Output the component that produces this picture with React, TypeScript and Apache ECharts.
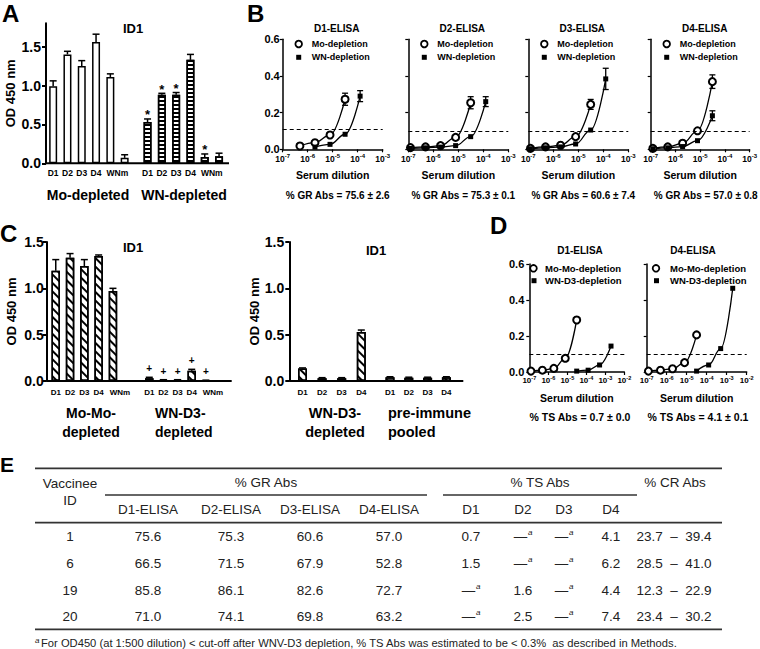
import { useEffect, useRef } from 'react';
import * as echarts from 'echarts';

const FONT = '"Liberation Sans", Arial, Helvetica, sans-serif';

// ---------- Panel A : ID1, OD 450 nm ----------
const catsA = ['D1', 'D2', 'D3', 'D4', 'WN', 'm'];
const moDepletedA = [0.99, 1.40, 1.25, 1.56, 1.11, 0.07];
const moDepletedErrA = [0.07, 0.04, 0.07, 0.10, 0.04, 0.04];
const wnDepletedA = [0.53, 0.88, 0.88, 1.33, 0.08, 0.09];
const wnDepletedErrA = [0.04, 0.02, 0.03, 0.07, 0.04, 0.04];
const wnStarA = [1, 1, 1, 0, 1, 0];
const ticksA = [0, 0.5, 1.0, 1.5];

// ---------- Panels B and D : serum dilution curves ----------
const dilutions = [1 / 8192000, 1 / 2048000, 1 / 512000, 1 / 128000, 1 / 32000, 1 / 8000, 1 / 2000, 1 / 500];
const bTitles = ['D1-ELISA', 'D2-ELISA', 'D3-ELISA', 'D4-ELISA'];
const moB1 = [null, 0.018, 0.036, 0.078, 0.273];
const moErrB1 = [0, 0, 0, 0, 0.033];
const wnB1 = [null, null, 0.012, 0.027, 0.082, 0.29];
const wnErrB1 = [0, 0, 0, 0, 0, 0.03];
const moB2 = [0.009, 0.013, 0.02, 0.065, 0.254];
const moErrB2 = [0, 0, 0, 0, 0.033];
const wnB2 = [0.005, 0.008, 0.012, 0.02, 0.069, 0.26];
const wnErrB2 = [0, 0, 0, 0, 0, 0.027];
const moB3 = [0.005, 0.013, 0.022, 0.069, 0.245];
const moErrB3 = [0, 0, 0, 0, 0.027];
const wnB3 = [0.003, 0.008, 0.013, 0.029, 0.105, 0.384];
const wnErrB3 = [0, 0, 0, 0, 0, 0.058];
const moB4 = [0.005, 0.013, 0.033, 0.101, 0.369];
const moErrB4 = [0, 0, 0, 0, 0.037];
const wnB4 = [0.003, 0.008, 0.015, 0.047, 0.183];
const wnErrB4 = [0, 0, 0, 0, 0.027];
const cutoffB = [0.11, 0.105, 0.105, 0.105];
const grMean = [75.6, 75.3, 60.6, 57.0];
const grSd = [2.6, 0.1, 7.4, 0.8];

const dTitles = ['D1-ELISA', 'D4-ELISA'];
const moMoD1 = [0.005, 0.01, 0.02, 0.076, 0.289];
const wnD3D1 = [null, null, null, null, 0.005, 0.01, 0.039, 0.144];
const moMoD4 = [0.005, 0.01, 0.018, 0.052, 0.206];
const wnD3D4 = [null, null, null, null, 0.005, 0.039, 0.13, 0.465];
const cutoffD = [0.104, 0.104];
const tsMean = [0.7, 4.1];
const tsSd = [0.0, 0.1];

// ---------- Panel C ----------
const catsC = ['D1', 'D2', 'D3', 'D4', 'WN', 'm'];
const moMoDepletedC = [1.19, 1.33, 1.24, 1.35, 0.97, 0.005];
const moMoErrC = [0.12, 0.045, 0.07, 0.01, 0.03, 0];
const wnD3DepletedC = [0.03, 0.01, 0.01, 0.11, 0.005, 0.005];
const wnD3ErrC = [0.01, 0.004, 0.004, 0.016, 0.004, 0];
const wnD3PlusC = [1, 1, 1, 1, 1, 0];
const catsCR = ['D1', 'D2', 'D3', 'D4'];
const wnD3DepletedCR = [0.135, 0.03, 0.03, 0.53];
const wnD3ErrCR = [0.006, 0.006, 0.006, 0.02];
const preImmuneCR = [0.04, 0.035, 0.035, 0.04];
const preImmuneErrCR = [0.006, 0.006, 0.006, 0.006];
const ticksC = [0, 0.5, 1.0, 1.5];

// ---------- Panel E : table ----------
const vaccineeIds = ['1', '6', '19', '20'];
const grD1 = [75.6, 66.5, 85.8, 71.0];
const grD2 = [75.3, 71.5, 86.1, 74.1];
const grD3 = [60.6, 67.9, 82.6, 69.8];
const grD4 = [57.0, 52.8, 72.7, 63.2];
const tsD1 = [0.7, 1.5, null, null];
const tsD2 = [null, null, 1.6, 2.5];
const tsD3 = [null, null, null, null];
const tsD4 = [4.1, 6.2, 4.4, 7.4];
const crLow = [23.7, 28.5, 12.3, 23.4];
const crHigh = [39.4, 41.0, 22.9, 30.2];
const footnote = 'For OD450 (at 1:500 dilution) < cut-off after WNV-D3 depletion, % TS Abs was estimated to be < 0.3%  as described in Methods.';

const BLACK = '#000';

function txt(text: string, x: number, y: number, size: number, weight = 'bold', align = 'center', color = BLACK) {
  return {
    type: 'text', silent: true, z: 50,
    style: { text, x, y, fill: color, font: `${weight} ${size}px ${FONT}`, textAlign: align, textVerticalAlign: 'middle' },
  };
}
function ln(x1: number, y1: number, x2: number, y2: number, w: number, color = BLACK) {
  return { type: 'line', silent: true, z: 50, shape: { x1, y1, x2, y2 }, style: { stroke: color, lineWidth: w } };
}

const barErrRender = (mark: string, markSize: number, markGap: number) => (_p: any, api: any) => {
  const i = api.value(0), v = api.value(1), e = api.value(2), f = api.value(3);
  const base = api.coord([i, v]);
  const top = api.coord([i, v + e]);
  const children: any[] = [];
  if (e > 0) {
    children.push({ type: 'line', shape: { x1: base[0], y1: base[1], x2: top[0], y2: top[1] }, style: { stroke: BLACK, lineWidth: 1.5 } });
    children.push({ type: 'line', shape: { x1: top[0] - 3.5, y1: top[1], x2: top[0] + 3.5, y2: top[1] }, style: { stroke: BLACK, lineWidth: 1.5 } });
  }
  if (f) {
    children.push({ type: 'text', style: { text: mark, x: top[0], y: top[1] - markGap, fill: BLACK, font: `bold ${markSize}px ${FONT}`, textAlign: 'center', textVerticalAlign: 'middle' } });
  }
  return { type: 'group', children };
};

const symErrRender = (_p: any, api: any) => {
  const x = api.value(0), y = api.value(1), e = api.value(2);
  const p1 = api.coord([x, y - e]);
  const p2 = api.coord([x, y + e]);
  const c = 3;
  const st = { stroke: BLACK, lineWidth: 1.3 };
  return {
    type: 'group', children: [
      { type: 'line', shape: { x1: p1[0], y1: p1[1], x2: p2[0], y2: p2[1] }, style: st },
      { type: 'line', shape: { x1: p1[0] - c, y1: p1[1], x2: p1[0] + c, y2: p1[1] }, style: st },
      { type: 'line', shape: { x1: p2[0] - c, y1: p2[1], x2: p2[0] + c, y2: p2[1] }, style: st },
    ],
  };
};

function buildOption() {
  const ctx = { grid: [] as any[], xAxis: [] as any[], yAxis: [] as any[], series: [] as any[] };
  const els: any[] = [];

  const hStripe = { symbol: 'rect', symbolSize: 1, color: BLACK, backgroundColor: '#fff', dashArrayX: [1, 0], dashArrayY: [1.3, 1.7], rotation: 0 };
  const dStripe = { symbol: 'rect', symbolSize: 1, color: BLACK, backgroundColor: '#fff', dashArrayX: [1, 0], dashArrayY: [1.7, 3.8], rotation: Math.PI / 4 };

  const addBarGroup = (o: any) => {
    const gi = ctx.grid.length;
    ctx.grid.push({ left: o.left, top: o.top, width: o.width, height: o.height });
    ctx.xAxis.push({
      type: 'category', gridIndex: gi, data: o.cats,
      axisLine: { show: false }, axisTick: { show: false }, splitLine: { show: false },
      axisLabel: {
        interval: 0, margin: o.labelMargin, fontSize: o.labelSize, fontWeight: 'bold', color: BLACK, fontFamily: FONT,
        formatter: (v: string) => (v === 'WN' ? '{w|WNm}' : v === 'm' ? '' : v),
        rich: { w: { fontSize: o.labelSize, fontWeight: 'bold', color: BLACK, fontFamily: FONT, padding: [0, 0, 0, o.wnPad || 14] } },
      },
    });
    ctx.yAxis.push({
      type: 'value', gridIndex: gi, min: 0, max: o.yMax, interval: 0.5, show: !!o.showY, offset: o.yOffset || 0,
      axisLine: { show: true, lineStyle: { color: BLACK, width: 2 } },
      axisTick: { show: true, length: 4, lineStyle: { color: BLACK, width: 2 }, customValues: o.ticks },
      axisLabel: { customValues: o.ticks, formatter: (v: number) => Number(v).toFixed(1), fontSize: 14, fontWeight: 'bold', color: BLACK, fontFamily: FONT, margin: o.yLabelMargin },
      splitLine: { show: false },
      name: o.showY ? 'OD 450 nm' : '', nameLocation: 'middle', nameRotate: 90, nameGap: o.nameGap || 29,
      nameTextStyle: { fontSize: 13, fontWeight: 'bold', color: BLACK, fontFamily: FONT },
    });
    ctx.series.push({
      type: 'bar', xAxisIndex: gi, yAxisIndex: gi, data: o.values, barWidth: o.barWidth, silent: true, z: 2,
      itemStyle: { color: '#fff', borderColor: BLACK, borderWidth: 1.5, ...(o.decal ? { decal: o.decal } : {}) },
    });
    ctx.series.push({
      type: 'custom', xAxisIndex: gi, yAxisIndex: gi, silent: true, z: 3, encode: { x: 0, y: 1 },
      data: o.values.map((v: number, i: number) => [i, v, o.errs[i], o.flags ? o.flags[i] : 0]),
      renderItem: barErrRender(o.mark || '', o.markSize || 12, o.markGap || 6),
    });
  };

  const pts = (vals: (number | null)[]) => vals.map((v, i) => (v == null ? null : [dilutions[i], v])).filter((p) => p);
  const errPts = (vals: (number | null)[], errs: number[]) =>
    vals.map((v, i) => (v == null || !errs[i] ? null : [dilutions[i], v, errs[i]])).filter((p) => p);
  const expFmt = (v: number) => `{b|10}{s|${Math.round(Math.log10(v))}}`;

  const addCurvePanel = (o: any) => {
    const gi = ctx.grid.length;
    ctx.grid.push({ left: o.left, top: o.top, width: o.width, height: o.height });
    ctx.xAxis.push({
      type: 'log', logBase: 10, gridIndex: gi, min: 1e-7, max: o.xMax,
      axisLine: { show: true, onZero: false, lineStyle: { color: BLACK, width: 1.5 } },
      axisTick: { show: true, length: 3, lineStyle: { color: BLACK, width: 1.2 } },
      minorTick: { show: false }, splitLine: { show: false },
      axisLabel: {
        margin: o.xLabelMargin, formatter: expFmt,
        rich: {
          b: { fontSize: o.xLabelSize, fontWeight: 'bold', color: BLACK, fontFamily: FONT, lineHeight: 11 },
          s: { fontSize: o.xSupSize, fontWeight: 'bold', color: BLACK, fontFamily: FONT, lineHeight: 11, verticalAlign: 'top' },
        },
      },
      name: 'Serum dilution', nameLocation: 'middle', nameGap: o.nameGap,
      nameTextStyle: { fontSize: 10.5, fontWeight: 'bold', color: BLACK, fontFamily: FONT },
    });
    ctx.yAxis.push({
      type: 'value', gridIndex: gi, min: 0, max: 0.6, interval: 0.2,
      axisLine: { show: true, lineStyle: { color: BLACK, width: 1.5 } },
      axisTick: { show: true, length: 3, lineStyle: { color: BLACK, width: 1.2 } },
      axisLabel: { show: !!o.showYLabels, formatter: (v: number) => Number(v).toFixed(1), fontSize: 11, fontWeight: 'bold', color: BLACK, fontFamily: FONT, margin: o.yLabelMargin || 3 },
      splitLine: { show: false },
    });
    ctx.series.push({
      type: 'line', name: o.moName, xAxisIndex: gi, yAxisIndex: gi, data: pts(o.mo), smooth: 0.4, smoothMonotone: 'x',
      symbol: 'emptyCircle', symbolSize: 7, silent: true, z: 4,
      itemStyle: { color: BLACK, borderWidth: 1.8 }, lineStyle: { color: BLACK, width: 1.3 },
      markLine: { silent: true, symbol: ['none', 'none'], label: { show: false }, lineStyle: { color: BLACK, type: [4, 3], width: 1.2 }, data: [{ yAxis: o.cutoff }] },
    });
    ctx.series.push({
      type: 'line', name: o.wnName, xAxisIndex: gi, yAxisIndex: gi, data: pts(o.wn), smooth: 0.4, smoothMonotone: 'x',
      symbol: 'rect', symbolSize: 5, silent: true, z: 4,
      itemStyle: { color: BLACK }, lineStyle: { color: BLACK, width: 1.3 },
    });
    const errData = [...errPts(o.mo, o.moErr || []), ...errPts(o.wn, o.wnErr || [])];
    if (errData.length) {
      ctx.series.push({ type: 'custom', xAxisIndex: gi, yAxisIndex: gi, silent: true, z: 3, encode: { x: 0, y: 1 }, data: errData, renderItem: symErrRender });
    }
  };

  // ----- Panel A -----
  addBarGroup({ left: 46, top: 23.3, width: 85.8, height: 140, cats: catsA, values: moDepletedA, errs: moDepletedErrA, showY: true, yMax: 1.8, ticks: ticksA, labelSize: 8.5, labelMargin: 5, yLabelMargin: 5, barWidth: 8, nameGap: 29 });
  addBarGroup({ left: 140.4, top: 23.3, width: 85.8, height: 140, cats: catsA, values: wnDepletedA, errs: wnDepletedErrA, flags: wnStarA, mark: '*', markSize: 13, markGap: 4, decal: hStripe, showY: false, yMax: 1.8, ticks: ticksA, labelSize: 8.5, labelMargin: 5, yLabelMargin: 5, barWidth: 8 });
  els.push(ln(45, 163.3, 229, 163.3, 2));
  els.push(txt('A', 2, 13.5, 24, 'bold', 'left'));
  els.push(txt('ID1', 133, 28.3, 13));
  els.push(txt('Mo-depleted', 88, 195, 14));
  els.push(txt('WN-depleted', 184, 195, 14));

  // ----- Panel B -----
  const bLefts = [282.7, 408.3, 528.3, 650.7];
  const bMo = [moB1, moB2, moB3, moB4];
  const bMoErr = [moErrB1, moErrB2, moErrB3, moErrB4];
  const bWn = [wnB1, wnB2, wnB3, wnB4];
  const bWnErr = [wnErrB1, wnErrB2, wnErrB3, wnErrB4];
  bLefts.forEach((l, i) => {
    addCurvePanel({ left: l, top: 39.3, width: 100, height: 110, xMax: 1e-3, showYLabels: i === 0, mo: bMo[i], moErr: bMoErr[i], wn: bWn[i], wnErr: bWnErr[i], cutoff: cutoffB[i], xLabelSize: 8.5, xSupSize: 6, xLabelMargin: 4, nameGap: 20, moName: 'Mo-depletion', wnName: 'WN-depletion' });
    els.push(txt(bTitles[i], l + 54, 28.3, 10));
    els.push({ type: 'circle', silent: true, z: 50, shape: { cx: l + 16, cy: 44, r: 3.3 }, style: { fill: '#fff', stroke: BLACK, lineWidth: 1.8 } });
    els.push({ type: 'rect', silent: true, z: 50, shape: { x: l + 13.5, y: 54.8, width: 5, height: 5 }, style: { fill: BLACK } });
    els.push(txt('Mo-depletion', l + 29, 44, 9, 'bold', 'left'));
    els.push(txt('WN-depletion', l + 29, 57.3, 9, 'bold', 'left'));
    els.push(txt(`% GR Abs = ${grMean[i].toFixed(1)} ± ${grSd[i].toFixed(1)}`, l + 55, 195, 10));
  });
  els.push(txt('B', 247, 13.5, 24, 'bold', 'left'));

  // ----- Panel C (left) -----
  addBarGroup({ left: 48.6, top: 242, width: 85.8, height: 139, cats: catsC, values: moMoDepletedC, errs: moMoErrC, decal: dStripe, showY: true, yOffset: 1.9, yMax: 1.5, ticks: ticksC, labelSize: 8, labelMargin: 7, yLabelMargin: 3, barWidth: 8.5, nameGap: 29 });
  addBarGroup({ left: 142.2, top: 242, width: 84.9, height: 139, cats: catsC, values: wnD3DepletedC, errs: wnD3ErrC, flags: wnD3PlusC, mark: '+', markSize: 10, markGap: 8.5, decal: dStripe, showY: false, yMax: 1.5, ticks: ticksC, labelSize: 8, labelMargin: 7, yLabelMargin: 3, barWidth: 8.5 });
  els.push(ln(46.7, 381, 231.7, 381, 2));
  els.push(txt('C', 0, 233, 24, 'bold', 'left'));
  els.push(txt('ID1', 133, 247, 13));
  els.push(txt('Mo-Mo-', 91, 413.3, 14));
  els.push(txt('depleted', 91, 431.7, 14));
  els.push(txt('WN-D3-', 155, 413.3, 14, 'bold', 'left'));
  els.push(txt('depleted', 155, 431.7, 14, 'bold', 'left'));

  // ----- Panel C (right) -----
  addBarGroup({ left: 292.7, top: 242, width: 78.4, height: 139, cats: catsCR, values: wnD3DepletedCR, errs: wnD3ErrCR, decal: dStripe, showY: true, yOffset: 3.4, yMax: 1.5, ticks: ticksC, labelSize: 8, labelMargin: 7, yLabelMargin: 5, barWidth: 9, nameGap: 26 });
  addBarGroup({ left: 380.6, top: 242, width: 75.2, height: 139, cats: catsCR, values: preImmuneCR, errs: preImmuneErrCR, decal: dStripe, showY: false, yMax: 1.5, ticks: ticksC, labelSize: 8, labelMargin: 7, yLabelMargin: 5, barWidth: 9 });
  els.push(ln(289.3, 381, 463.3, 381, 2));
  els.push(txt('ID1', 376, 250, 13));
  els.push(txt('WN-D3-', 335, 413.3, 14.5));
  els.push(txt('depleted', 335, 431.7, 14.5));
  els.push(txt('pre-immune', 388, 413.3, 14.5, 'bold', 'left'));
  els.push(txt('pooled', 388, 431.7, 14.5, 'bold', 'left'));

  // ----- Panel D -----
  const dLefts = [529.3, 646.7];
  const dWidths = [95, 100];
  const dMo = [moMoD1, moMoD4];
  const dWn = [wnD3D1, wnD3D4];
  const dLegendCx = [533.5, 656];
  const dLegendTx = [545, 670];
  const dTitleX = [580, 693];
  const dStatX = [580, 698];
  dLefts.forEach((l, i) => {
    addCurvePanel({ left: l, top: 264, width: dWidths[i], height: 108, xMax: 1e-2, showYLabels: i === 0, yLabelMargin: 5, mo: dMo[i], wn: dWn[i], cutoff: cutoffD[i], xLabelSize: 8, xSupSize: 5.5, xLabelMargin: 3, nameGap: 20.5, moName: 'Mo-Mo-depletion', wnName: 'WN-D3-depletion' });
    els.push(txt(dTitles[i], dTitleX[i], 250.7, 10));
    els.push({ type: 'circle', silent: true, z: 50, shape: { cx: dLegendCx[i], cy: 268.3, r: 3.3 }, style: { fill: '#fff', stroke: BLACK, lineWidth: 1.8 } });
    els.push({ type: 'rect', silent: true, z: 50, shape: { x: dLegendCx[i] - 2, y: 278.2, width: 5, height: 5 }, style: { fill: BLACK } });
    els.push(txt('Mo-Mo-depletion', dLegendTx[i], 268.3, 9.5, 'bold', 'left'));
    els.push(txt('WN-D3-depletion', dLegendTx[i], 280.7, 9.5, 'bold', 'left'));
    els.push(txt(`% TS Abs = ${tsMean[i].toFixed(1)} ± ${tsSd[i].toFixed(1)}`, dStatX[i], 416.7, 10.5));
  });
  els.push(txt('D', 490, 225, 24, 'bold', 'left'));

  // ----- Panel E : table -----
  const TC = '#222';
  const TS = 13.5;
  const colId = 70;
  const colGr = [148, 231, 310, 389];
  const colTs = [471, 523, 564, 611];
  const colCr = 674;
  const rowYs = [536, 563.3, 590, 616.7];
  els.push(txt('E', 0, 464.5, 21, 'bold', 'left'));
  els.push(ln(35, 468.3, 722, 468.3, 1.8, '#333'));
  els.push(ln(105, 495, 427, 495, 1.4, '#333'));
  els.push(ln(443, 495, 637, 495, 1.4, '#333'));
  els.push(ln(35, 522.7, 722, 522.7, 1.8, '#333'));
  els.push(ln(35, 629.3, 722, 629.3, 1.8, '#333'));
  els.push(txt('Vaccinee', colId, 483.3, TS, 'normal', 'center', TC));
  els.push(txt('ID', colId, 500, TS, 'normal', 'center', TC));
  els.push(txt('% GR Abs', 266, 482.5, TS, 'normal', 'center', TC));
  els.push(txt('% TS Abs', 540, 482.5, TS, 'normal', 'center', TC));
  els.push(txt('% CR Abs', 675, 482.5, TS, 'normal', 'center', TC));
  ['D1-ELISA', 'D2-ELISA', 'D3-ELISA', 'D4-ELISA'].forEach((h, c) => els.push(txt(h, colGr[c], 509.5, TS, 'normal', 'center', TC)));
  ['D1', 'D2', 'D3', 'D4'].forEach((h, c) => els.push(txt(h, colTs[c], 509.5, TS, 'normal', 'center', TC)));
  const grCols = [grD1, grD2, grD3, grD4];
  const tsCols = [tsD1, tsD2, tsD3, tsD4];
  vaccineeIds.forEach((id, r) => {
    const y = rowYs[r];
    els.push(txt(id, colId, y, TS, 'normal', 'center', TC));
    grCols.forEach((arr, c) => els.push(txt(arr[r].toFixed(1), colGr[c], y, TS, 'normal', 'center', TC)));
    tsCols.forEach((arr, c) => {
      const v = arr[r];
      if (v == null) {
        els.push(txt('—', colTs[c] - 2.5, y, TS, 'normal', 'center', TC));
        els.push(txt('a', colTs[c] + 5, y - 4, 8, 'italic', 'left', TC));
      } else {
        els.push(txt(v.toFixed(1), colTs[c], y, TS, 'normal', 'center', TC));
      }
    });
    els.push(txt(`${crLow[r].toFixed(1)}  –  ${crHigh[r].toFixed(1)}`, colCr, y, TS, 'normal', 'center', TC));
  });
  els.push(txt('a', 35, 640, 8, 'italic', 'left', TC));
  els.push(txt(footnote, 41, 643.3, 11.2, 'normal', 'left', TC));

  return {
    animation: false,
    backgroundColor: '#fff',
    textStyle: { fontFamily: FONT },
    grid: ctx.grid,
    xAxis: ctx.xAxis,
    yAxis: ctx.yAxis,
    series: ctx.series,
    graphic: { elements: els },
  };
}

export default function App() {
  const ref = useRef<HTMLDivElement>(null);
  useEffect(() => {
    if (!ref.current) return;
    const chart = echarts.init(ref.current, null, { renderer: 'svg' });
    chart.setOption(buildOption() as any);
    return () => chart.dispose();
  }, []);
  return <div ref={ref} style={{ position: 'absolute', left: 0, top: 0, width: 760, height: 649, background: '#fff' }} />;
}
